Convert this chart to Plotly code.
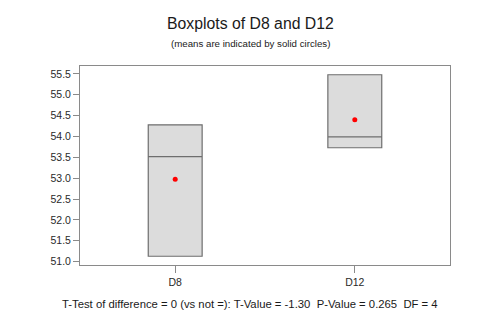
import plotly.graph_objects as go

# Three observations per sample
categories = ["D8", "D12"]
d8_values = [51.13, 53.52, 54.28]
d12_values = [53.73, 53.99, 55.48]
samples = [d8_values, d12_values]

y_ticks = [51.0, 51.5, 52.0, 52.5, 53.0, 53.5, 54.0, 54.5, 55.0, 55.5]
y_tick_labels = [f"{v:.1f}" for v in y_ticks]

title_text = "Boxplots of D8 and D12"
subtitle_text = "(means are indicated by solid circles)"
footer_text = "T-Test of difference = 0 (vs not =): T-Value = -1.30  P-Value = 0.265  DF = 4"

# With n = 3 the quartiles fall on the min and max, so the box spans the data range
q1 = [min(s) for s in samples]
q3 = [max(s) for s in samples]
med = [sorted(s)[1] for s in samples]
means = [sum(s) / len(s) for s in samples]

fig = go.Figure()
fig.add_trace(go.Box(
    x=categories,
    q1=q1, median=med, q3=q3,
    lowerfence=q1, upperfence=q3,
    fillcolor="#dcdcdc",
    line=dict(color="#6e6e6e", width=1.2),
    width=0.3,
    whiskerwidth=0,
    boxpoints=False,
    hoverinfo="skip",
    showlegend=False,
))
fig.add_trace(go.Scatter(
    x=categories, y=means, mode="markers",
    marker=dict(color="#ff0000", size=5),
    showlegend=False, hoverinfo="skip",
))

axis_line = dict(showline=True, linecolor="#8a8a8a", linewidth=1, mirror=True,
                 ticks="outside", tickcolor="#8a8a8a", tickwidth=1,
                 showgrid=False, zeroline=False,
                 tickfont=dict(family="Liberation Sans, Arial", size=10.5, color="#2a2a2a"))

W, H = 500, 332
ML, MR, MT, MB = 80, 50, 66, 67

fig.update_layout(
    width=W, height=H,
    margin=dict(l=ML, r=MR, t=MT, b=MB),
    paper_bgcolor="white", plot_bgcolor="white",
    xaxis=dict(type="category", categoryorder="array", categoryarray=categories,
               range=[-0.53, 1.53], ticklen=7, **axis_line),
    yaxis=dict(range=[50.92, 55.69], tickvals=y_ticks, ticktext=y_tick_labels,
               ticklen=6, **axis_line),
)

# Page-centred text blocks, placed by pixel row
texts = [
    (title_text, 23, 15.8),
    (subtitle_text, 43, 9.7),
    (footer_text, 304, 11.3),
]
plot_w, plot_h = W - ML - MR, H - MT - MB
for text, row, size in texts:
    fig.add_annotation(
        text=text, showarrow=False, xref="paper", yref="paper",
        x=(W / 2 - ML) / plot_w, y=(MT + plot_h - row) / plot_h,
        xanchor="center", yanchor="middle",
        font=dict(family="Liberation Sans, Arial", size=size, color="#1a1a1a"),
    )

fig.write_html("out.html")
